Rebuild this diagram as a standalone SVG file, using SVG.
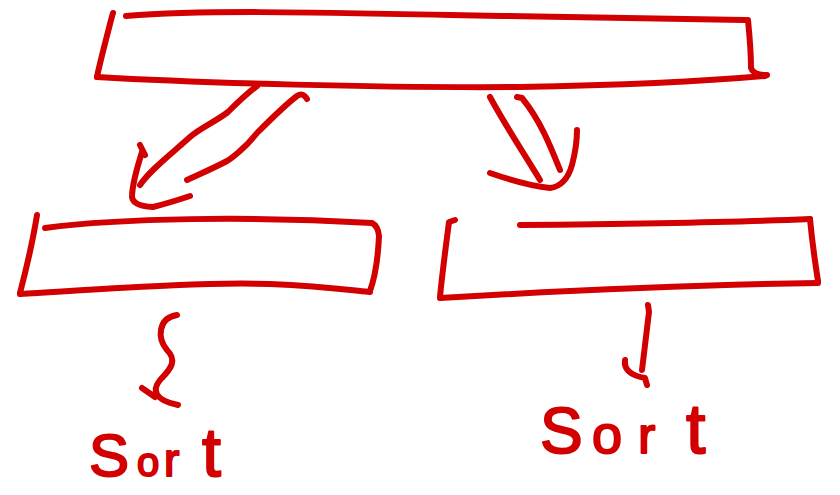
<svg xmlns="http://www.w3.org/2000/svg" width="840" height="495" viewBox="0 0 840 495">
  <style>
    .ink { fill: none; stroke: #d20000; stroke-width: 6; stroke-linecap: round; stroke-linejoin: round; }
    .hand { font-family: "Liberation Sans", "DejaVu Sans", sans-serif; fill: #d20000; stroke: #d20000; stroke-width: 2; stroke-linejoin: round; }
  </style>
  <rect width="840" height="495" fill="#ffffff"/>

  <g id="top-box">
    <path class="ink" d="M113,13 L111,20 M111,20 C106,40 100,62 97,77"/>
    <path class="ink" d="M126,16 C200,10 300,12 450,15 C560,17 680,19 745,20"/>
    <path class="ink" d="M748,20 C750,40 751,58 751,68 Q753,75 767,75"/>
    <path class="ink" d="M97,77 C200,83 380,88 520,87 C640,85 720,80 765,76"/>
  </g>

  <g id="left-box">
    <path class="ink" d="M37,215 C33,240 26,270 20,293"/>
    <path class="ink" d="M45,228 C120,218 250,216 372,223 Q378,226 379,236 C378,258 374,280 370,291"/>
    <path class="ink" d="M20,294 C120,288 200,282 270,284 C320,286 350,290 370,292"/>
  </g>

  <g id="right-box">
    <path class="ink" d="M455,220 L449,222 C446,245 442,275 440,297"/>
    <path class="ink" d="M520,225 C620,224 720,223 810,219"/>
    <path class="ink" d="M810,219 C812,240 815,262 818,281"/>
    <path class="ink" d="M440,298 C540,292 680,285 818,283"/>
  </g>

  <g id="sort-left">
    <text class="hand" y="476"><tspan x="89" font-size="60">S</tspan><tspan x="137" font-size="40">o</tspan><tspan x="164" font-size="46">r</tspan><tspan x="202" font-size="68">t</tspan></text>
  </g>

  <g id="sort-right">
    <text class="hand" y="453"><tspan x="540" font-size="64">S</tspan><tspan x="592" font-size="54">o</tspan><tspan x="638" font-size="52">r</tspan><tspan x="686" font-size="70">t</tspan></text>
  </g>

  <g id="connectors">
    <!-- left double-shafted arrow -->
    <path class="ink" d="M257,86 C245,95 235,105 228,112 C215,122 200,128 190,137 C170,155 150,170 140,185"/>
    <path class="ink" d="M307,99 Q303,92 297,96 C285,105 270,120 257,133 C245,148 232,158 227,161 C210,170 195,176 187,180"/>
    <path class="ink" d="M140,145 L145,155 M142,152 C138,165 133,180 132,195 Q131,206 153,207 C165,204 178,200 190,196"/>
    <!-- right double-shafted arrow -->
    <path class="ink" d="M490,97 C505,125 525,155 540,180"/>
    <path class="ink" d="M517,97 L522,98 C540,120 550,145 560,170"/>
    <path class="ink" d="M490,173 C510,180 530,186 550,188 Q566,186 572,165 C576,150 577,140 577,130"/>
    <!-- squiggle under left box -->
    <path class="ink" d="M177,315 C158,318 157,338 167,350 C177,360 172,368 160,380 C152,390 154,400 178,405 M142,388 L155,397"/>
    <!-- short arrow under right box -->
    <path class="ink" d="M648,305 L649,312 L642,370 M625,360 Q623,374 645,378 L647,385"/>
  </g>
</svg>
